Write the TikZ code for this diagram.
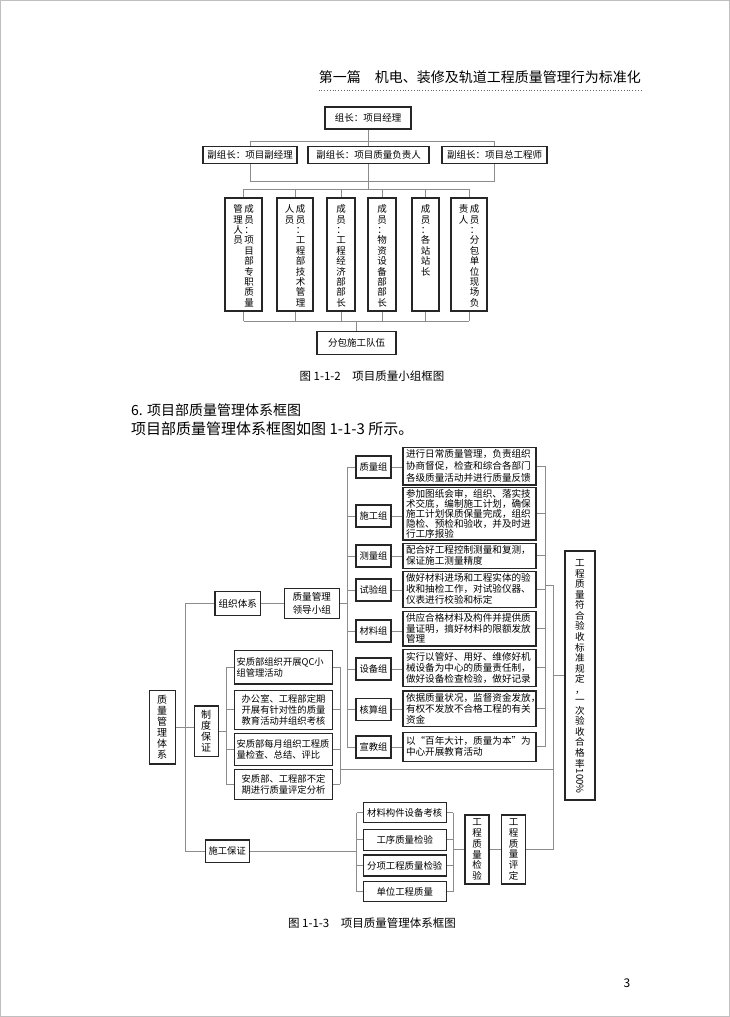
\documentclass[tikz,border=0pt]{standalone}
\usepackage{fontspec}
\setmainfont{Noto Sans CJK SC}
\usepackage{graphicx}
\usetikzlibrary{calc}
\pgfdeclarelayer{bg}
\pgfsetlayers{bg,main}
\newcommand{\vt}[1]{\vtop{\def\\{\hss\egroup\hbox to 1em\bgroup\hss}\hbox to 1em\bgroup\hss#1\hss\egroup}}
\newcommand{\vtc}[1]{\vt{#1}}
\begin{document}
\begin{tikzpicture}[x=1pt,y=-1pt,
  bx/.style={draw=black!85, line width=1.1pt, fill=white, inner sep=0pt, align=center, font=\fontsize{9.5}{11}\selectfont},
  cn/.style={draw=black!45, line width=0.7pt},
  dsc/.style={bx, align=left, text width=127pt, inner xsep=3pt, inner ysep=0pt, font=\fontsize{9.6}{11}\selectfont},
  gb/.style={bx, minimum width=35pt, minimum height=22pt, font=\fontsize{9.3}{11}\selectfont},
  itm/.style={bx, minimum width=98.4pt, font=\fontsize{9.3}{11}\selectfont},
  itl/.style={itm, align=left, text width=94pt, inner xsep=2.2pt},
  mb/.style={bx, minimum height=113pt},
  vtx/.style={inner sep=0pt, font=\fontsize{9.5}{10.4}\selectfont},
  sb/.style={bx, minimum width=82.7pt, font=\fontsize{9.4}{11}\selectfont},
]
\useasboundingbox (0,0) rectangle (730,1017);
\draw[black!25, line width=0.8pt] (0.5,0.5) rectangle (729.5,1016.5);

% header
\node[anchor=east, inner sep=0pt, font=\fontsize{14}{14}\selectfont] (hdr) at (641,77) {第一篇\hspace{1em}机电、装修及轨道工程质量管理行为标准化};
\draw[black!60, dotted, line width=0.8pt] (hdr.west |- 0,90) -- (hdr.east |- 0,90);

% ---------- Figure 1-1-2 ----------
\node[bx, minimum width=86pt, minimum height=22pt] (lead) at (368,118) {组长：项目经理};
\node[bx, minimum width=94pt, minimum height=17pt] (v1) at (250,155) {副组长：项目副经理};
\node[bx, minimum width=121pt, minimum height=17pt] (v2) at (368.5,155) {副组长：项目质量负责人};
\node[bx, minimum width=105pt, minimum height=17pt] (v3) at (494.5,155) {副组长：项目总工程师};

\node[mb, minimum width=37pt] (m1) at (243.5,254.5) {};
\node[mb, minimum width=36pt] (m2) at (295,254.5) {};
\node[mb, minimum width=28pt] (m3) at (341,254.5) {};
\node[mb, minimum width=28pt] (m4) at (382,254.5) {};
\node[mb, minimum width=27pt] (m5) at (425.5,254.5) {};
\node[mb, minimum width=36pt] (m6) at (469,254.5) {};
\node[vtx, anchor=north] (m1t) at ([yshift=-7pt]m1.north) {\vt{管\\理\\人\\员}\hspace{1.5pt}\vt{成\\员\\：\\项\\目\\部\\专\\职\\质\\量}};
\node[vtx, anchor=north] (m2t) at ([yshift=-7pt]m2.north) {\vt{人\\员}\hspace{1.5pt}\vt{成\\员\\：\\工\\程\\部\\技\\术\\管\\理}};
\node[vtx, anchor=north] (m3t) at ([yshift=-7pt]m3.north) {\vt{成\\员\\：\\工\\程\\经\\济\\部\\部\\长}};
\node[vtx, anchor=north] (m4t) at ([yshift=-7pt]m4.north) {\vt{成\\员\\：\\物\\资\\设\\备\\部\\部\\长}};
\node[vtx, anchor=north] (m5t) at ([yshift=-7pt]m5.north) {\vt{成\\员\\：\\各\\站\\站\\长}};
\node[vtx, anchor=north] (m6t) at ([yshift=-7pt]m6.north) {\vt{责\\人}\hspace{1.5pt}\vt{成\\员\\：\\分\\包\\单\\位\\现\\场\\负}};

\node[bx, minimum width=79pt, minimum height=23pt] (team) at (356.5,343.3) {分包施工队伍};

\node[inner sep=0pt, font=\fontsize{11.5}{12}\selectfont] (cap1) at (372,376) {图 1-1-2\hspace{1em}项目质量小组框图};

% text
\node[anchor=west, inner sep=0pt, font=\fontsize{14}{14}\selectfont] (sec) at (131,410) {6.\hspace{0.3em}项目部质量管理体系框图};
\node[anchor=west, inner sep=0pt, font=\fontsize{15}{15}\selectfont] (body) at (131,429) {项目部质量管理体系框图如图 1-1-3 所示。};

% ---------- Figure 1-1-3 ----------
\node[gb] (g1) at (373.5,467) {质量组};
\node[gb] (g2) at (373.5,516) {施工组};
\node[gb] (g3) at (373.5,556) {测量组};
\node[gb] (g4) at (373.5,590) {试验组};
\node[gb] (g5) at (373.5,631) {材料组};
\node[gb] (g6) at (373.5,669) {设备组};
\node[gb] (g7) at (373.5,709.5) {核算组};
\node[gb] (g8) at (373.5,747) {宣教组};

\node[dsc, minimum height=37.3pt, font=\fontsize{9.6}{12}\selectfont] (d1) at (469.5,466.3) {进行日常质量管理，负责组织\\协商督促，检查和综合各部门\\各级质量活动并进行质量反馈};
\node[dsc, minimum height=52.3pt, font=\fontsize{9.6}{9.9}\selectfont] (d2) at (469.5,513.8) {参加图纸会审，组织、落实技\\术交底，编制施工计划，确保\\施工计划保质保量完成，组织\\隐检、预检和验收，并及时进\\行工序报验};
\node[dsc, minimum height=25pt] (d3) at (469.5,555.8) {配合好工程控制测量和复测，\\保证施工测量精度};
\node[dsc, minimum height=36.3pt] (d4) at (469.5,589.2) {做好材料进场和工程实体的验\\收和抽检工作，对试验仪器、\\仪表进行校验和标定};
\node[dsc, minimum height=34.3pt, font=\fontsize{9.6}{10.5}\selectfont] (d5) at (469.5,628.8) {供应合格材料及构件并提供质\\量证明，搞好材料的限额发放\\管理};
\node[dsc, minimum height=36.7pt] (d6) at (469.5,667.7) {实行以管好、用好、维修好机\\械设备为中心的质量责任制，\\做好设备检查检验，做好记录};
\node[dsc, minimum height=35.7pt] (d7) at (469.5,708.8) {依据质量状况，监督资金发放，\\有权不发放不合格工程的有关\\资金};
\node[dsc, minimum height=29pt] (d8) at (469.5,746.8) {以“百年大计，质量为本”为\\中心开展教育活动};

\node[bx, minimum width=25.7pt, minimum height=73.3pt, font=\fontsize{10}{10.9}\selectfont] (sys) at (162.2,727.3) {\vtc{质\\量\\管\\理\\体\\系}};
\node[bx, minimum width=45.7pt, minimum height=24pt, font=\fontsize{9.6}{11}\selectfont] (org) at (237.8,603.7) {组织体系};
\node[bx, minimum width=54.7pt, minimum height=30pt, font=\fontsize{9.6}{12.5}\selectfont] (lg) at (311.8,603.3) {质量管理\\领导小组};
\node[bx, minimum width=24.3pt, minimum height=50.7pt, font=\fontsize{10}{11.1}\selectfont] (zd) at (206.2,731.3) {\vtc{制\\度\\保\\证}};

\node[itl, minimum height=33.3pt] (i1) at (283.5,667.3) {安质部组织开展QC小\\组管理活动};
\node[itm, minimum height=39.3pt] (i2) at (283.5,709.7) {办公室、工程部定期\\开展有针对性的质量\\教育活动并组织考核};
\node[itl, minimum height=31.7pt] (i3) at (283.5,749.2) {安质部每月组织工程质\\量检查、总结、评比};
\node[itm, minimum height=30pt] (i4) at (283.5,784.3) {安质部、工程部不定\\期进行质量评定分析};

\node[bx, minimum width=44.3pt, minimum height=22.7pt, font=\fontsize{9.3}{11}\selectfont] (sg) at (227.2,851.3) {施工保证};
\node[sb, minimum height=20pt] (s1) at (404.7,812.7) {材料构件设备考核};
\node[sb, minimum height=20.7pt] (s2) at (404.7,839.7) {工序质量检验};
\node[sb, minimum height=21pt] (s3) at (404.7,865.5) {分项工程质量检验};
\node[sb, minimum height=20pt] (s4) at (404.7,891.7) {单位工程质量};
\node[bx, minimum width=24pt, minimum height=69pt, font=\fontsize{9.5}{10.8}\selectfont] (jy) at (477,849.5) {\vtc{工\\程\\质\\量\\检\\验}};
\node[bx, minimum width=24pt, minimum height=69pt, font=\fontsize{9.5}{10.8}\selectfont] (pd) at (513.7,849.5) {\vtc{工\\程\\质\\量\\评\\定}};

\node[bx, minimum width=30pt, minimum height=249pt] (big) at (580,675.5) {};
\node[vtx, anchor=north, font=\fontsize{9.6}{10.55}\selectfont] (bigt) at ([yshift=-9pt]big.north) {\vt{工\\程\\质\\量\\符\\合\\验\\收\\标\\准\\规\\定\\，\\一\\次\\验\\收\\合\\格\\率\\\rotatebox[origin=c]{-90}{100\%}}};

\node[inner sep=0pt, font=\fontsize{11.5}{12}\selectfont] (cap2) at (372,923) {图 1-1-3\hspace{1em}项目质量管理体系框图};
\node[inner sep=0pt, font=\fontsize{12}{12}\selectfont] (pg) at (627,983) {3};

% bus coordinates
\coordinate (gbus) at (347.3,0);
\coordinate (dbus) at (545,0);
\coordinate (rbus) at (553.3,0);
\coordinate (lbus) at (185,0);
\coordinate (zl) at (226,0);
\coordinate (zr) at (340,0);
\coordinate (sl) at (356.7,0);
\coordinate (sr) at (453.3,0);

\begin{pgfonlayer}{bg}
% fig 1-1-2
\draw[cn] (lead.south) -- (lead.south |- 0,189);
\draw[cn] (v1.north |- 0,141) -- (v3.north |- 0,141);
\draw[cn] (v1.north |- 0,141) -- (v1.south |- 0,181.7) -- (v3.south |- 0,181.7) -- (v3.north |- 0,141);
\draw[cn] (m1.north |- 0,189) -- (m6.north |- 0,189);
\foreach \m in {m1,m2,m3,m4,m5,m6} {
  \draw[cn] (\m.north) -- (\m.north |- 0,189);
  \draw[cn] (\m.south) -- (\m.south |- 0,321);
}
\draw[cn] (m1.south |- 0,321) -- (m6.south |- 0,321);
\draw[cn] (team.north) -- (team.north |- 0,321);
% fig 1-1-3
\foreach \i in {1,...,8} {
  \draw[cn] (g\i.west) -- (g\i.west -| gbus);
  \draw[cn] (g\i.east) -- (g\i.east -| d\i.west);
  \draw[cn] (d\i.east) -- (d\i.east -| dbus);
}
\draw[cn] (g1.west -| gbus) -- (g8.west -| gbus);
\draw[cn] (lg.east) -- (lg.east -| gbus);
\draw[cn] (d1.east -| dbus) -- (d8.east -| dbus);
\draw[cn] (dbus |- 0,585) -- (rbus |- 0,585) -- (rbus |- pd.east);
\draw[cn] (pd.east) -- (pd.east -| rbus);
\draw[cn] (big.west) -- (big.west -| rbus);
\draw[cn] (sys.east) -- (sys.east -| zd.west);
\draw[cn] (lbus |- org.west) -- (lbus |- sg.west);
\draw[cn] (lbus |- org.west) -- (org.west);
\draw[cn] (org.east) -- (org.east -| lg.west);
\draw[cn] (lbus |- sg.west) -- (sg.west);
\draw[cn] (zd.east) -- (zd.east -| zl);
\foreach \i in {1,...,4} {
  \draw[cn] (i\i.west) -- (i\i.west -| zl);
  \draw[cn] (i\i.east) -- (i\i.east -| zr);
  \draw[cn] (s\i.west) -- (s\i.west -| sl);
  \draw[cn] (s\i.east) -- (s\i.east -| sr);
}
\draw[cn] (i1.west -| zl) -- (i4.west -| zl);
\draw[cn] (i1.east -| zr) -- (i4.east -| zr);
\draw[cn] (zr |- 0,769.3) -- (rbus |- 0,769.3);
\draw[cn] (sg.east) -- (sg.east -| sl);
\draw[cn] (s1.west -| sl) -- (s4.west -| sl);
\draw[cn] (s1.east -| sr) -- (s4.east -| sr);
\draw[cn] (jy.west -| sr) -- (jy.west);
\draw[cn] (jy.east) -- (jy.east -| pd.west);
\end{pgfonlayer}
\end{tikzpicture}
\end{document}
